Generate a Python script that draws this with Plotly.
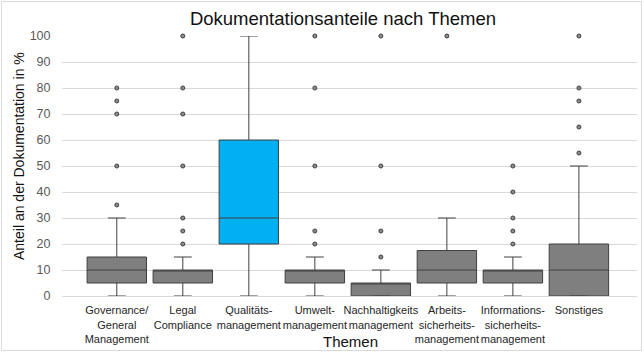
import plotly.graph_objects as go

categories = [
    "Governance/<br>General<br>Management",
    "Legal<br>Compliance",
    "Qualitäts-<br>management",
    "Umwelt-<br>management",
    "Nachhaltigkeits<br>management",
    "Arbeits-<br>sicherheits-<br>management",
    "Informations-<br>sicherheits-<br>management",
    "Sonstiges",
]
q1 = [5, 5, 20, 5, 0, 5, 5, 0]
median = [10, 10, 30, 10, 5, 10, 10, 10]
q3 = [15, 10, 60, 10, 5, 17.5, 10, 20]
lowerfence = [0, 0, 0, 0, 0, 0, 0, 0]
upperfence = [30, 15, 100, 15, 10, 30, 15, 50]
outliers = [
    [80, 75, 70, 50, 35],
    [100, 80, 70, 50, 30, 25, 20],
    [],
    [100, 80, 50, 25, 20],
    [100, 50, 25, 15],
    [100],
    [50, 40, 30, 25, 20],
    [100, 80, 75, 65, 55],
]
fill_colors = ["#7F7F7F", "#7F7F7F", "#00B0F0", "#7F7F7F", "#7F7F7F", "#7F7F7F", "#7F7F7F", "#7F7F7F"]

fig = go.Figure()
for i in range(len(categories)):
    fig.add_trace(go.Box(
        x=[i], q1=[q1[i]], median=[median[i]], q3=[q3[i]],
        lowerfence=[lowerfence[i]], upperfence=[upperfence[i]],
        width=0.9, whiskerwidth=0.3,
        fillcolor=fill_colors[i],
        line=dict(color="#404040", width=1),
        showlegend=False, hoverinfo="skip",
    ))
    if outliers[i]:
        fig.add_trace(go.Scatter(
            x=[i] * len(outliers[i]), y=outliers[i], mode="markers",
            marker=dict(size=4, color="#8C8C8C", line=dict(color="#404040", width=1)),
            showlegend=False, cliponaxis=False, hoverinfo="skip",
        ))

W, H = 644, 353
L, R, T, B = 62, 7, 36, 57
pw, ph = W - L - R, H - T - B

def px_x(p):
    return (p - L) / pw

def px_y(p):
    return (H - B - p) / ph

fig.update_layout(
    width=W, height=H,
    margin=dict(l=L, r=R, t=T, b=B, autoexpand=False),
    paper_bgcolor="white", plot_bgcolor="white",
    font=dict(family="Liberation Sans, Arial, sans-serif", color="#262626"),
    boxmode="overlay",
    title=dict(text="Dokumentationsanteile nach Themen", x=343 / W, xanchor="center",
               y=1 - 19 / H, yanchor="middle", yref="container",
               font=dict(size=18.5, color="#111111")),
    xaxis=dict(
        tickmode="array", tickvals=list(range(len(categories))), ticktext=categories,
        range=[-0.83, 7.88], showgrid=False, zeroline=False,
        showline=True, linecolor="#D9D9D9", linewidth=1,
        ticks="outside", ticklen=4, tickcolor="rgba(0,0,0,0)",
        tickfont=dict(size=11, color="#262626"), tickangle=0, automargin=False,
    ),
    yaxis=dict(
        range=[0, 100], dtick=10, showgrid=True, gridcolor="#D9D9D9", gridwidth=1,
        zeroline=False, showline=False,
        ticks="outside", ticklen=8, tickcolor="rgba(0,0,0,0)",
        tickfont=dict(size=12.5, color="#595959"), automargin=False,
    ),
    annotations=[
        dict(text="Anteil an der Dokumentation in %", textangle=-90,
             xref="paper", yref="paper", x=px_x(19), y=px_y(156),
             xanchor="center", yanchor="middle", showarrow=False,
             font=dict(size=14, color="#111111")),
        dict(text="Themen", xref="paper", yref="paper", x=px_x(350), y=px_y(341),
             xanchor="center", yanchor="middle", showarrow=False,
             font=dict(size=15, color="#111111")),
    ],
    shapes=[
        dict(type="rect", xref="paper", yref="paper",
             x0=px_x(1.5), x1=px_x(641.5), y0=px_y(350.5), y1=px_y(1.5),
             line=dict(color="#D9D9D9", width=1), fillcolor="rgba(0,0,0,0)", layer="below"),
    ],
)

fig.write_html("out.html")
